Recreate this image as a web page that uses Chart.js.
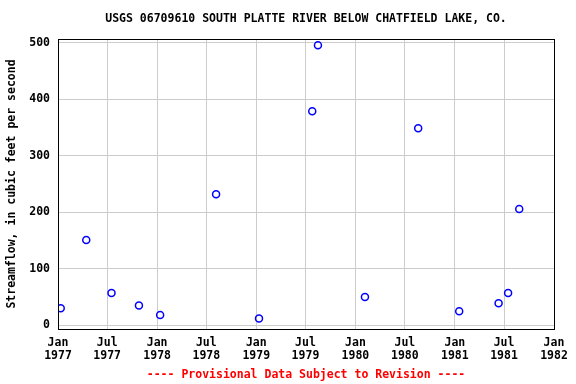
<!DOCTYPE html>
<html>
<head>
<meta charset="utf-8">
<script src="https://cdn.jsdelivr.net/npm/chart.js@4"></script>
<style>
  html, body { margin: 0; padding: 0; background: #fff; }
  #wrap { width: 576px; height: 384px; }
</style>
</head>
<body>
<div id="wrap"><canvas id="flowChart" width="576" height="384"></canvas></div>
<script>
// Sample dates and streamflow (cfs)
const sampleDates = [
  "1977-01-11", "1977-04-15", "1977-07-17", "1977-10-26", "1978-01-12",
  "1978-08-06", "1979-01-11", "1979-07-26", "1979-08-16", "1980-02-05",
  "1980-08-19", "1981-01-17", "1981-06-11", "1981-07-16", "1981-08-26"
];
const flowValues = [30, 151, 57, 35, 18, 232, 12, 379, 496, 50, 349, 25, 39, 57, 206];

// Axis ticks
const xTickDates = [
  "1977-01-01", "1977-07-01", "1978-01-01", "1978-07-01", "1979-01-01", "1979-07-01",
  "1980-01-01", "1980-07-01", "1981-01-01", "1981-07-01", "1982-01-01"
];
const xTickLabels = [
  ["Jan", "1977"], ["Jul", "1977"], ["Jan", "1978"], ["Jul", "1978"], ["Jan", "1979"], ["Jul", "1979"],
  ["Jan", "1980"], ["Jul", "1980"], ["Jan", "1981"], ["Jul", "1981"], ["Jan", "1982"]
];
const yTicks = [0, 100, 200, 300, 400, 500];

const titleText = "USGS 06709610 SOUTH PLATTE RIVER BELOW CHATFIELD LAKE, CO.";
const footerText = "---- Provisional Data Subject to Revision ----";
const yTitle = "Streamflow, in cubic feet per second";

const MONO = "'DejaVu Sans Mono', 'Liberation Mono', monospace";
const toMs = s => Date.parse(s + "T00:00:00Z");
const tickMs = xTickDates.map(toMs);

// -----------------------------
// Frame, title and footer
// -----------------------------
const framePlugin = {
  id: "frame",
  afterDraw(chart) {
    const { ctx, chartArea: a } = chart;
    ctx.save();
    ctx.strokeStyle = "#000";
    ctx.lineWidth = 1;
    ctx.strokeRect(Math.round(a.left) + 0.5, Math.round(a.top) + 0.5,
      Math.round(a.right - a.left), Math.round(a.bottom - a.top));

    const mid = (a.left + a.right) / 2;
    ctx.font = "bold 11.5px " + MONO;
    ctx.textAlign = "center";
    ctx.textBaseline = "middle";
    ctx.fillStyle = "#000";
    ctx.fillText(titleText, mid, 19);
    ctx.fillStyle = "#ff0000";
    ctx.fillText(footerText, mid, 375);
    ctx.restore();
  }
};

const ctx = document.getElementById("flowChart").getContext("2d");
new Chart(ctx, {
  type: "scatter",
  data: {
    datasets: [{
      data: sampleDates.map((d, i) => ({ x: toMs(d), y: flowValues[i] })),
      borderColor: "#0000ff",
      backgroundColor: "rgba(0,0,0,0)",
      borderWidth: 1.5,
      pointRadius: 3.5,
      pointStyle: "circle"
    }]
  },
  options: {
    responsive: false,
    animation: false,
    layout: { padding: { left: 0, right: 22, top: 39, bottom: 0 } },
    plugins: {
      legend: { display: false },
      tooltip: { enabled: false }
    },
    scales: {
      x: {
        type: "linear",
        min: tickMs[0],
        max: tickMs[tickMs.length - 1],
        afterBuildTicks: s => { s.ticks = tickMs.map(v => ({ value: v })); },
        afterFit: s => { s.height = 55; },
        grid: { color: "#cccccc", lineWidth: 1, drawTicks: false },
        border: { display: false },
        ticks: {
          autoSkip: false,
          maxRotation: 0,
          padding: 7,
          color: "#000",
          font: { family: MONO, size: 11.5, weight: "bold", lineHeight: 1.15 },
          callback: (v) => xTickLabels[tickMs.indexOf(v)] || ""
        }
      },
      y: {
        min: -6.6,
        max: 507,
        afterBuildTicks: s => { s.ticks = yTicks.map(v => ({ value: v })); },
        afterFit: s => { s.width = 58; },
        grid: { color: "#cccccc", lineWidth: 1, drawTicks: false },
        border: { display: false },
        ticks: {
          padding: 8,
          color: "#000",
          font: { family: MONO, size: 11.5, weight: "bold" }
        },
        title: {
          display: true,
          text: yTitle,
          color: "#000",
          padding: { top: 5, bottom: 0 },
          font: { family: MONO, size: 11.5, weight: "bold" }
        }
      }
    }
  },
  plugins: [framePlugin]
});
</script>
</body>
</html>
